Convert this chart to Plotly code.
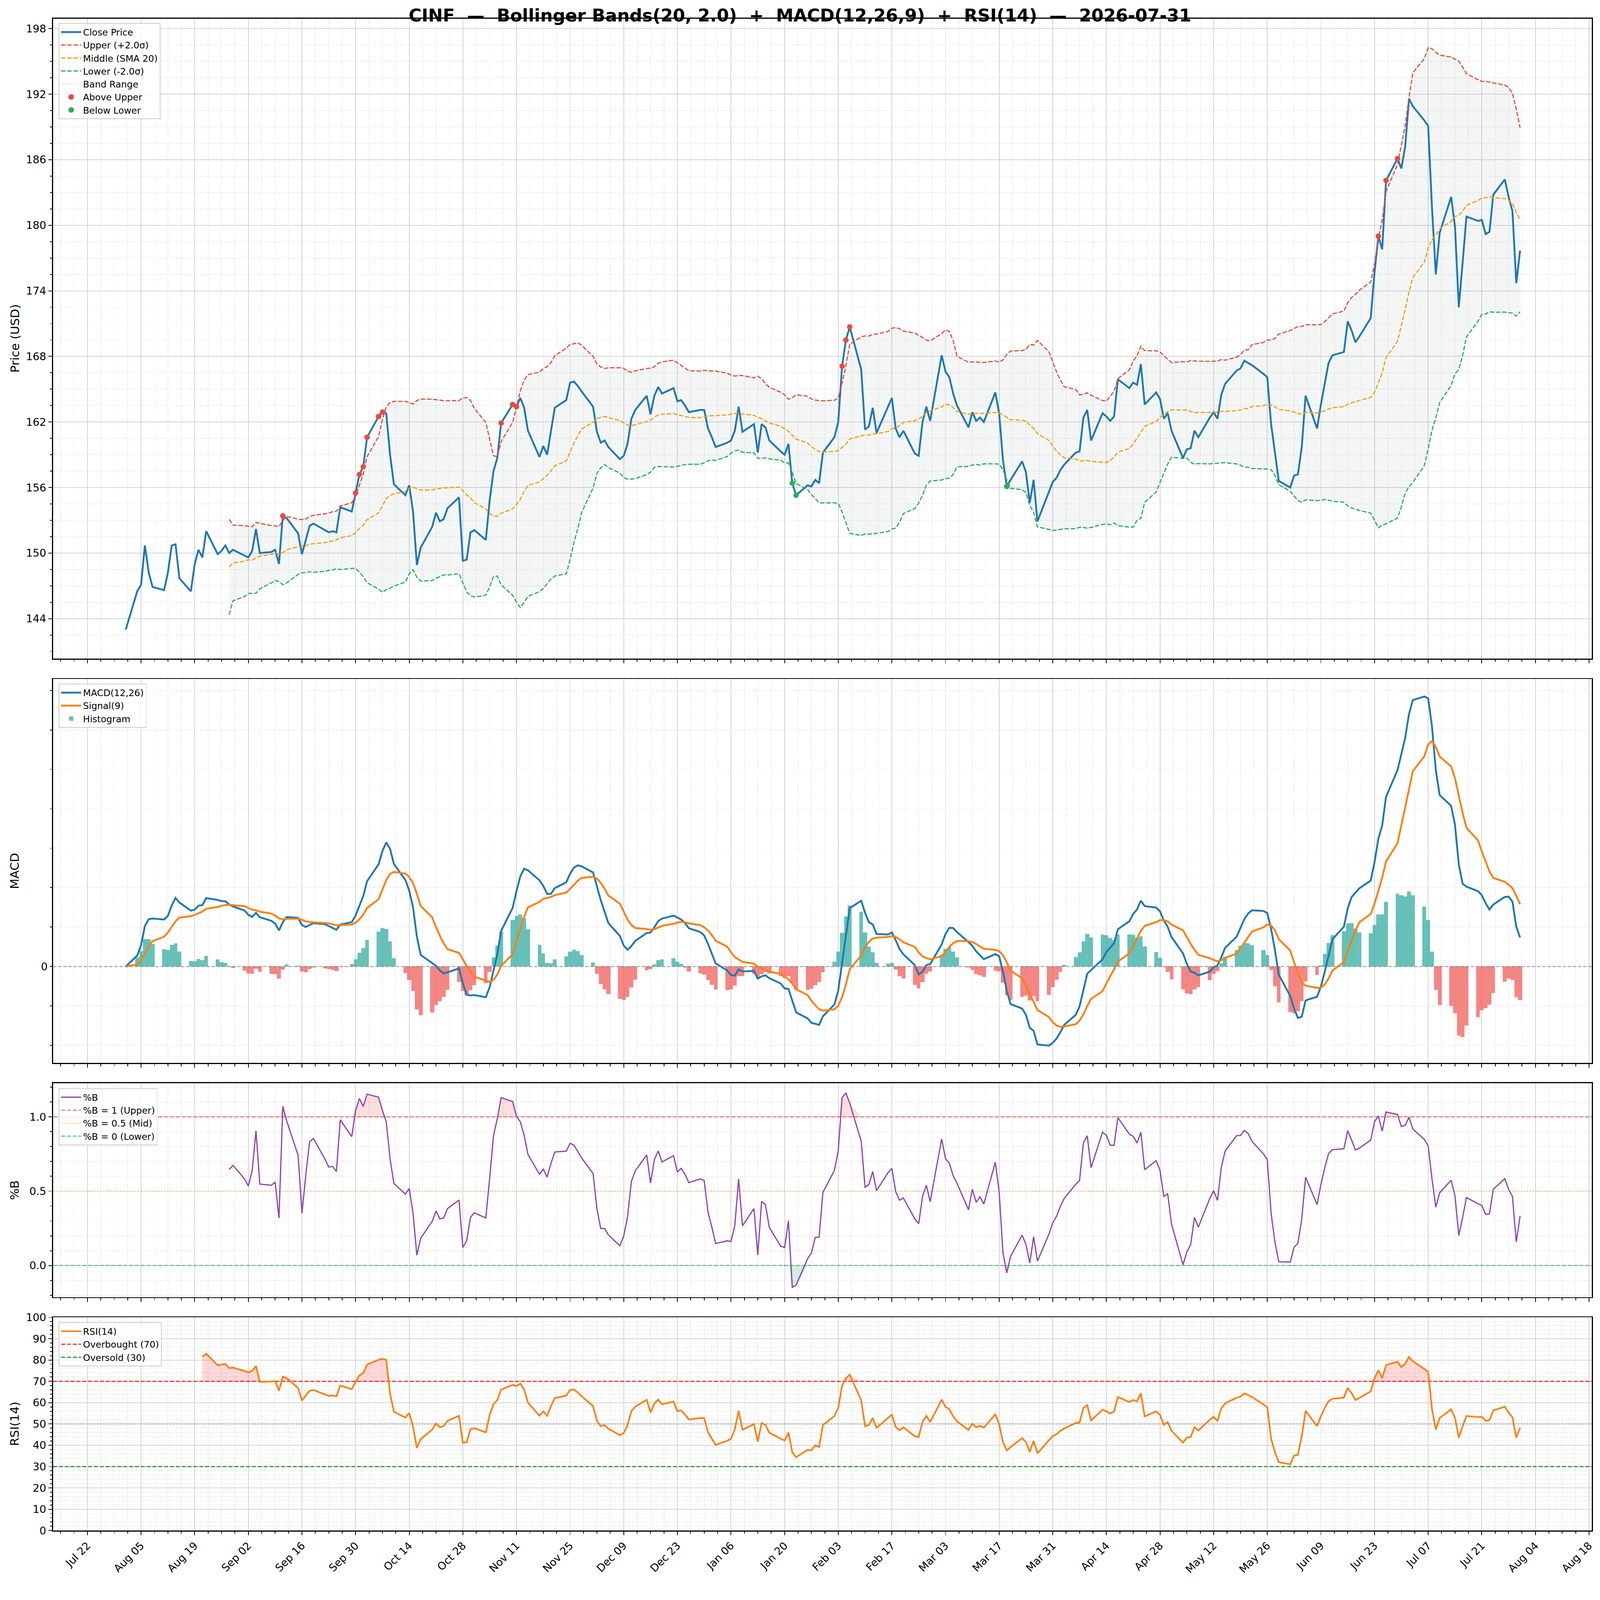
import numpy as np
import pandas as pd
import plotly.graph_objects as go
from plotly.subplots import make_subplots

ticker = "CINF"
as_of = "2026-07-31"

# daily closes, one list per month (business days)
close_aug = [143.0, 146.5, 147.1, 150.7, 148.2, 146.9, 146.6, 148.2, 150.7, 150.8, 147.7,
             146.5, 149.0, 150.3, 149.6, 152.0, 149.9, 150.2, 150.7, 150.0, 150.3]
close_sep = [149.8, 149.6, 150.2, 152.2, 150.0, 150.1, 150.3, 149.0, 153.4, 153.2, 151.8,
             149.9, 151.2, 152.5, 152.7, 152.1, 151.9, 152.0, 151.9, 154.2, 153.8, 155.5]
close_oct = [157.2, 157.9, 160.6, 162.5, 162.9, 162.8, 159.0, 156.3, 155.3, 156.2, 153.8,
             148.9, 150.5, 152.4, 153.7, 152.9, 153.1, 154.1, 155.1, 149.3, 149.4, 151.9, 152.1]
close_nov = [151.2, 154.8, 157.5, 158.7, 161.9, 163.6, 163.4, 164.2, 163.3, 161.2,
             158.8, 159.8, 159.0, 161.2, 163.3, 164.0, 165.6, 165.7, 165.3, 164.8]
close_dec = [163.4, 161.1, 160.1, 160.3, 159.7, 158.6, 158.9, 160.0, 162.3, 163.1, 164.4,
             162.7, 164.4, 165.2, 164.6, 165.1, 163.9, 164.0, 163.5, 162.9, 163.1, 163.1, 161.4]
close_jan = [160.6, 159.7, 160.1, 160.3, 161.2, 163.4, 161.1, 161.8, 159.2, 161.8, 161.5,
             160.3, 159.3, 159.0, 160.0, 156.4, 155.3, 156.2, 156.1, 156.7, 156.4, 159.2]
close_feb = [160.6, 162.0, 167.1, 169.5, 170.7, 166.8, 161.3, 161.6, 163.3, 161.0,
             163.4, 164.2, 161.4, 160.6, 161.2, 159.1, 158.9, 162.0, 163.4, 162.1]
close_mar = [168.1, 166.6, 166.1, 164.6, 163.5, 161.5, 162.9, 162.1, 162.4, 162.0, 164.7,
             162.8, 158.5, 156.1, 156.7, 158.4, 157.4, 154.6, 156.7, 152.9, 155.6, 156.5]
close_apr = [156.9, 157.6, 158.1, 159.2, 159.3, 162.4, 163.1, 160.3, 162.8, 162.5, 162.1,
             162.5, 165.9, 165.1, 165.6, 165.4, 167.3, 163.6, 164.7, 164.1, 162.3, 162.8]
close_may = [161.2, 158.7, 159.5, 159.6, 161.2, 160.6, 162.4, 162.9, 162.3, 164.5, 165.5,
             166.7, 166.9, 167.6, 167.4, 167.2, 166.4, 166.1, 161.8, 159.1, 156.6]
close_jun = [156.0, 157.1, 157.2, 159.7, 164.4, 161.4, 163.6, 165.6, 167.4, 168.1, 168.4,
             171.2, 170.4, 169.3, 169.8, 171.5, 175.7, 179.0, 177.8, 184.1, 186.1, 185.2]
close_jul = [187.2, 191.6, 190.9, 189.6, 189.1, 181.6, 175.5, 179.3, 182.6, 179.9, 172.5,
             176.6, 180.8, 180.4, 180.5, 179.2, 179.4, 182.8, 184.2, 182.6, 181.3, 174.7, 177.7]

close_vals = (close_aug + close_sep + close_oct + close_nov + close_dec + close_jan +
              close_feb + close_mar + close_apr + close_may + close_jun + close_jul)
dates = pd.bdate_range("2025-08-01", "2026-07-31")
close = pd.Series(close_vals, index=dates)

# indicators (standard definitions)
bb_n, bb_k = 20, 2.0
mid = close.rolling(bb_n).mean()
sd = close.rolling(bb_n).std()
upper = mid + bb_k * sd
lower = mid - bb_k * sd
pctb = (close - lower) / (upper - lower)

ema_fast = close.ewm(span=12, adjust=False).mean()
ema_slow = close.ewm(span=26, adjust=False).mean()
macd = ema_fast - ema_slow
signal = macd.ewm(span=9, adjust=False).mean()
hist = macd - signal

delta = close.diff()
gain = delta.clip(lower=0)
loss = -delta.clip(upper=0)
avg_gain = gain.ewm(alpha=1 / 14, adjust=False, min_periods=14).mean()
avg_loss = loss.ewm(alpha=1 / 14, adjust=False, min_periods=14).mean()
rsi = 100 - 100 / (1 + avg_gain / avg_loss)

valid = upper.notna()
above = close[valid & (close > upper)]
below = close[valid & (close < lower)]

FONT = "DejaVu Sans"
DAY = 86400000
W, H = 4377, 4322
x0, x1 = "2025-07-13 00:15", "2026-08-18 18:15"

fig = make_subplots(rows=4, cols=1, shared_xaxes=True)

bd = dates[valid]
# band fill
fig.add_trace(go.Scatter(x=bd, y=lower[valid], mode="lines", line=dict(width=0),
                         showlegend=False, hoverinfo="skip"), row=1, col=1)
fig.add_trace(go.Scatter(x=bd, y=upper[valid], mode="lines",
                         line=dict(width=1, color="rgba(149,165,166,0.12)"),
                         fill="tonexty", fillcolor="rgba(149,165,166,0.10)",
                         name="Band Range", legend="legend", legendrank=5), row=1, col=1)
fig.add_trace(go.Scatter(x=dates, y=close, mode="lines", name="Close Price",
                         line=dict(color="#1f77b4", width=5), legend="legend",
                         legendrank=1), row=1, col=1)
fig.add_trace(go.Scatter(x=bd, y=upper[valid], mode="lines", name="Upper (+2.0σ)",
                         line=dict(color="#e74c3c", width=3.2, dash="12px,5px"),
                         legend="legend", legendrank=2), row=1, col=1)
fig.add_trace(go.Scatter(x=bd, y=mid[valid], mode="lines", name="Middle (SMA 20)",
                         line=dict(color="#f39c12", width=3.2, dash="12px,5px"),
                         legend="legend", legendrank=3), row=1, col=1)
fig.add_trace(go.Scatter(x=bd, y=lower[valid], mode="lines", name="Lower (-2.0σ)",
                         line=dict(color="#27ae60", width=3.2, dash="12px,5px"),
                         legend="legend", legendrank=4), row=1, col=1)
fig.add_trace(go.Scatter(x=above.index, y=above, mode="markers", name="Above Upper",
                         marker=dict(color="#e74c3c", size=15), legend="legend",
                         legendrank=6), row=1, col=1)
fig.add_trace(go.Scatter(x=below.index, y=below, mode="markers", name="Below Lower",
                         marker=dict(color="#27ae60", size=15), legend="legend",
                         legendrank=7), row=1, col=1)

# MACD
pos = hist.where(hist >= 0)
neg = hist.where(hist < 0)
fig.add_trace(go.Bar(x=dates, y=pos, width=1.0 * DAY, marker_color="rgba(38,166,154,0.7)",
                     marker_line_width=0, name="Histogram", legend="legend2",
                     legendrank=3), row=2, col=1)
fig.add_trace(go.Bar(x=dates, y=neg, width=1.0 * DAY, marker_color="rgba(239,83,80,0.7)",
                     marker_line_width=0, showlegend=False), row=2, col=1)
fig.add_trace(go.Scatter(x=dates, y=macd, mode="lines", name="MACD(12,26)",
                         line=dict(color="#1f77b4", width=5), legend="legend2",
                         legendrank=1), row=2, col=1)
fig.add_trace(go.Scatter(x=dates, y=signal, mode="lines", name="Signal(9)",
                         line=dict(color="#ff7f0e", width=5), legend="legend2",
                         legendrank=2), row=2, col=1)

# %B
pv = pctb.notna()
pdates = dates[pv]
pb = pctb[pv]
fig.add_trace(go.Scatter(x=pdates, y=np.ones(len(pb)), mode="lines", line=dict(width=0),
                         showlegend=False, hoverinfo="skip"), row=3, col=1)
fig.add_trace(go.Scatter(x=pdates, y=np.maximum(pb, 1), mode="lines", line=dict(width=0),
                         fill="tonexty", fillcolor="rgba(231,76,60,0.18)",
                         showlegend=False, hoverinfo="skip"), row=3, col=1)
fig.add_trace(go.Scatter(x=pdates, y=np.zeros(len(pb)), mode="lines", line=dict(width=0),
                         showlegend=False, hoverinfo="skip"), row=3, col=1)
fig.add_trace(go.Scatter(x=pdates, y=np.minimum(pb, 0), mode="lines", line=dict(width=0),
                         fill="tonexty", fillcolor="rgba(39,174,96,0.2)",
                         showlegend=False, hoverinfo="skip"), row=3, col=1)
fig.add_trace(go.Scatter(x=[x0, x1], y=[1, 1], mode="lines", name="%B = 1 (Upper)",
                         line=dict(color="rgba(231,76,60,0.7)", width=3, dash="11px,5px"),
                         legend="legend3", legendrank=2), row=3, col=1)
fig.add_trace(go.Scatter(x=[x0, x1], y=[0.5, 0.5], mode="lines", name="%B = 0.5 (Mid)",
                         line=dict(color="rgba(243,156,18,0.6)", width=3, dash="3px,5px"),
                         legend="legend3", legendrank=3), row=3, col=1)
fig.add_trace(go.Scatter(x=[x0, x1], y=[0, 0], mode="lines", name="%B = 0 (Lower)",
                         line=dict(color="rgba(39,174,96,0.7)", width=3, dash="11px,5px"),
                         legend="legend3", legendrank=4), row=3, col=1)
fig.add_trace(go.Scatter(x=pdates, y=pb, mode="lines", name="%B",
                         line=dict(color="#8e44ad", width=3.3), legend="legend3",
                         legendrank=1), row=3, col=1)

# RSI
rv = rsi.notna()
rd = dates[rv]
rs = rsi[rv]
fig.add_trace(go.Scatter(x=rd, y=np.full(len(rs), 70.0), mode="lines", line=dict(width=0),
                         showlegend=False, hoverinfo="skip"), row=4, col=1)
fig.add_trace(go.Scatter(x=rd, y=np.maximum(rs, 70), mode="lines", line=dict(width=0),
                         fill="tonexty", fillcolor="rgba(255,0,0,0.15)",
                         showlegend=False, hoverinfo="skip"), row=4, col=1)
fig.add_trace(go.Scatter(x=rd, y=np.full(len(rs), 30.0), mode="lines", line=dict(width=0),
                         showlegend=False, hoverinfo="skip"), row=4, col=1)
fig.add_trace(go.Scatter(x=rd, y=np.minimum(rs, 30), mode="lines", line=dict(width=0),
                         fill="tonexty", fillcolor="rgba(0,128,0,0.15)",
                         showlegend=False, hoverinfo="skip"), row=4, col=1)
fig.add_trace(go.Scatter(x=[x0, x1], y=[70, 70], mode="lines", name="Overbought (70)",
                         line=dict(color="rgba(255,0,0,0.8)", width=3.3, dash="11px,5px"),
                         legend="legend4", legendrank=2), row=4, col=1)
fig.add_trace(go.Scatter(x=[x0, x1], y=[30, 30], mode="lines", name="Oversold (30)",
                         line=dict(color="rgba(0,128,0,0.8)", width=3.3, dash="11px,5px"),
                         legend="legend4", legendrank=3), row=4, col=1)
fig.add_trace(go.Scatter(x=rd, y=rs, mode="lines", name="RSI(14)",
                         line=dict(color="#ff7f0e", width=4.5), legend="legend4",
                         legendrank=1), row=4, col=1)

# reference lines without legend entries
fig.add_shape(type="line", xref="x2 domain", yref="y2", x0=0, x1=1, y0=0, y1=0,
              line=dict(color="rgba(128,128,128,0.8)", width=2.5, dash="9px,5px"))
fig.add_shape(type="line", xref="x4 domain", yref="y4", x0=0, x1=1, y0=50, y1=50,
              line=dict(color="rgba(128,128,128,0.7)", width=3, dash="3px,5px"))


def pad_range(*series):
    lo = min(float(np.nanmin(s)) for s in series)
    hi = max(float(np.nanmax(s)) for s in series)
    p = 0.05 * (hi - lo)
    return [lo - p, hi + p]


grid_major = "#d3d3d3"
grid_minor = "#e4e4e4"
axis_common = dict(showline=True, linecolor="black", linewidth=2.5, mirror=True,
                   ticks="outside", ticklen=10, tickwidth=2, tickcolor="black",
                   showgrid=True, gridcolor=grid_major, gridwidth=2, zeroline=False,
                   tickfont=dict(family=FONT, size=29, color="black"))

xcommon = dict(axis_common, type="date", range=[x0, x1], tick0="2025-07-22",
               dtick=14 * DAY, tickformat="%b %d", tickangle=-45,
               minor=dict(tick0="2025-07-22", dtick=3.5 * DAY, ticks="outside",
                          ticklen=6, tickwidth=2, tickcolor="black", showgrid=True,
                          gridcolor=grid_minor, gridwidth=1.5, griddash="dot"))
for i in range(1, 5):
    fig.update_xaxes(xcommon, showticklabels=(i == 4), row=i, col=1)


def yminor(step):
    return dict(dtick=step, tick0=0, ticks="outside", ticklen=6, tickwidth=2,
                tickcolor="black", showgrid=True, gridcolor=grid_minor, gridwidth=1.5,
                griddash="dot")


fig.update_yaxes(axis_common, range=pad_range(close, upper, lower), tick0=0, dtick=6,
                 minor=yminor(1.5), domain=[0.5767, 1.0], row=1, col=1)

mr = pad_range(macd, signal, hist, [0.0])
mvals = list(range(int(np.floor(mr[0])), int(np.ceil(mr[1])) + 1))
fig.update_yaxes(axis_common, range=mr, tickmode="array", tickvals=mvals,
                 ticktext=["0" if v == 0 else "" for v in mvals], ticklen=6,
                 griddash="dot", gridcolor=grid_minor, gridwidth=1.5,
                 domain=[0.3092, 0.5632], row=2, col=1)
fig.update_yaxes(axis_common, range=pad_range(pb, [0.0, 1.0]), tick0=0, dtick=0.5,
                 tickformat=".1f", minor=yminor(0.1), domain=[0.1544, 0.2959],
                 row=3, col=1)
fig.update_yaxes(axis_common, range=[0, 100], tick0=0, dtick=10, minor=yminor(2),
                 domain=[0.0, 0.1410], row=4, col=1)

legend_style = dict(x=0.0036, xanchor="left", yanchor="top", bgcolor="rgba(255,255,255,0.8)",
                    bordercolor="#cccccc", borderwidth=2, itemwidth=55, traceorder="normal",
                    font=dict(family=FONT, size=25, color="black"), tracegroupgap=0)
title_text = ("CINF\u00a0\u00a0—\u00a0\u00a0Bollinger Bands(20, 2.0)\u00a0\u00a0+\u00a0\u00a0"
              "MACD(12,26,9)\u00a0\u00a0+\u00a0\u00a0RSI(14)\u00a0\u00a0—\u00a0\u00a0" + as_of)

fig.update_layout(
    width=W, height=H,
    margin=dict(l=145, r=22, t=51, b=135),
    paper_bgcolor="white", plot_bgcolor="white",
    barmode="overlay", bargap=0,
    font=dict(family=FONT, color="black"),
    title=dict(text="<b>" + title_text + "</b>", x=0.5, xanchor="center", y=0.9903,
               yanchor="middle", font=dict(family=FONT, size=48, color="black")),
    legend=dict(legend_style, y=0.9971),
    legend2=dict(legend_style, y=0.5602),
    legend3=dict(legend_style, y=0.2926),
    legend4=dict(legend_style, y=0.1378),
)

ylabels = [("Price (USD)", 0.7884), ("MACD", 0.4362), ("%B", 0.2252), ("RSI(14)", 0.0705)]
for text, yc in ylabels:
    fig.add_annotation(text=text, xref="paper", yref="paper", x=-0.0249, y=yc,
                       textangle=-90, showarrow=False, xanchor="center", yanchor="middle",
                       font=dict(family=FONT, size=33, color="black"))

# fit the fixed-size figure into the browser viewport (no margins, no scrollbars)
fit_js = (
    "var gd=document.getElementById('{plot_id}');"
    "document.documentElement.style.overflow='hidden';"
    "document.body.style.margin='0';document.body.style.overflow='hidden';"
    "var s=Math.min(window.innerWidth/%d, window.innerHeight/%d);"
    "if(Math.abs(s-1)>0.001){gd.style.transformOrigin='0 0';"
    "gd.style.transform='scale('+s+')';}" % (W, H)
)
fig.write_html("out.html", post_script=fit_js, config={"displayModeBar": False})
